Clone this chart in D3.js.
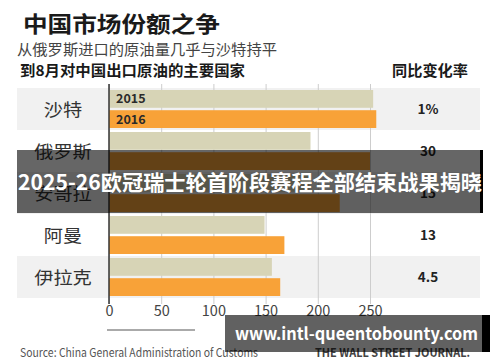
<!DOCTYPE html>
<html>
<head>
<meta charset="utf-8">
<script src="https://cdn.jsdelivr.net/npm/d3@7/dist/d3.min.js"></script>
<style>
  body { margin: 0; background: #fff; }
  svg { display: block; }
  text { font-family: "Noto Sans CJK SC", "Noto Sans", sans-serif; }
</style>
</head>
<body>
<svg id="chart" width="500" height="362"></svg>
<script>
// values (thousand barrels a day, roughly)
var countries = ["沙特", "俄罗斯", "安哥拉", "阿曼", "伊拉克"];
var years = ["2015", "2016"];
var values2015 = [253, 193, 192, 149, 156];
var values2016 = [256, 250, 221, 168, 164];
var changes = ["1%", "30", "15", "13", "4.5"];
var xTicks = [0, 50, 100, 150, 200, 250];

(function() {
  var svg = d3.select("#chart");

  var colors = { "2015": "#d7d4b6", "2016": "#f8a238" };

  var x = d3.scaleLinear().domain([0, 250]).range([109, 370]);
  var y = d3.scaleBand().domain(countries).range([88, 298]);
  var yInner = d3.scaleBand().domain(years).range([2, 40]).paddingInner(0.12);

  var rows = countries.map(function(c, i) {
    return { country: c, i: i, change: changes[i], v: { "2015": values2015[i], "2016": values2016[i] } };
  });

  // titles
  svg.append("text")
    .attr("x", 23).attr("y", 32)
    .attr("font-size", 22).attr("font-weight", "bold").attr("fill", "#1a1a1a")
    .attr("textLength", 197).attr("lengthAdjust", "spacingAndGlyphs")
    .text("中国市场份额之争");

  svg.append("text")
    .attr("x", 17).attr("y", 55)
    .attr("font-size", 15).attr("fill", "#444")
    .attr("textLength", 260).attr("lengthAdjust", "spacingAndGlyphs")
    .text("从俄罗斯进口的原油量几乎与沙特持平");

  svg.append("text")
    .attr("x", 20).attr("y", 76)
    .attr("font-size", 14.5).attr("font-weight", "bold").attr("fill", "#1a1a1a")
    .attr("textLength", 225).attr("lengthAdjust", "spacingAndGlyphs")
    .text("到8月对中国出口原油的主要国家");

  svg.append("text")
    .attr("x", 430).attr("y", 76)
    .attr("text-anchor", "middle")
    .attr("font-size", 14.5).attr("font-weight", "bold").attr("fill", "#1a1a1a")
    .attr("textLength", 76).attr("lengthAdjust", "spacingAndGlyphs")
    .text("同比变化率");

  // alternating row bands
  svg.append("g").selectAll("rect")
    .data(rows.filter(function(d) { return d.i % 2 === 0; }))
    .join("rect")
    .attr("x", 17).attr("width", 463)
    .attr("y", function(d) { return y(d.country); })
    .attr("height", y.bandwidth())
    .attr("fill", "#f1f1f1");

  // gridlines
  var grid = svg.append("g")
    .attr("transform", "translate(0,84)")
    .call(d3.axisBottom(x).tickValues(xTicks).tickSize(220).tickFormat(""));
  grid.select(".domain").remove();
  grid.selectAll("line").attr("stroke", "#cdcdcd");

  // bars
  var rowG = svg.append("g").selectAll("g")
    .data(rows)
    .join("g")
    .attr("transform", function(d) { return "translate(0," + y(d.country) + ")"; });

  rowG.selectAll("rect")
    .data(function(d) { return years.map(function(yr) { return { year: yr, value: d.v[yr] }; }); })
    .join("rect")
    .attr("x", x(0))
    .attr("y", function(d) { return yInner(d.year); })
    .attr("width", function(d) { return x(d.value) - x(0); })
    .attr("height", yInner.bandwidth())
    .attr("fill", function(d) { return colors[d.year]; });

  // year labels inside first row
  rowG.filter(function(d) { return d.i === 0; })
    .selectAll("text.yr")
    .data(years)
    .join("text")
    .attr("class", "yr")
    .attr("x", x(0) + 7)
    .attr("y", function(yr) { return yInner(yr) + yInner.bandwidth() / 2 + 4.5; })
    .attr("font-family", "'Open Sans', sans-serif")
    .attr("font-size", 12.5).attr("font-weight", "bold").attr("fill", "#2a2a2a")
    .text(function(yr) { return yr; });

  // country names
  rowG.append("text")
    .attr("x", 63)
    .attr("y", y.bandwidth() / 2 + 6.5)
    .attr("text-anchor", "middle")
    .attr("font-size", 17.5).attr("fill", "#333")
    .attr("textLength", function(d) { return d.country.length * 19.2; })
    .attr("lengthAdjust", "spacingAndGlyphs")
    .text(function(d) { return d.country; });

  // change column
  rowG.append("text")
    .attr("x", 428)
    .attr("y", y.bandwidth() / 2 + 5)
    .attr("text-anchor", "middle")
    .attr("font-family", "'Open Sans', sans-serif")
    .attr("font-size", 13.5).attr("font-weight", "bold").attr("fill", "#222")
    .text(function(d) { return d.change; });

  // zero line
  svg.append("line")
    .attr("x1", x(0)).attr("x2", x(0))
    .attr("y1", 84).attr("y2", 304)
    .attr("stroke", "#333").attr("stroke-width", 1.5);

  // axis labels
  var axis = svg.append("g")
    .attr("transform", "translate(0,304)")
    .call(d3.axisBottom(x).tickValues(xTicks).tickSize(0).tickPadding(2));
  axis.select(".domain").remove();
  axis.selectAll("text")
    .attr("font-family", "'Open Sans', sans-serif")
    .attr("font-size", 14.5).attr("fill", "#444");

  svg.append("line")
    .attr("x1", 107).attr("x2", 195)
    .attr("y1", 330).attr("y2", 330)
    .attr("stroke", "#aaa").attr("stroke-width", 2);

  // footer
  svg.append("text")
    .attr("x", 20).attr("y", 357)
    .attr("font-family", "'Open Sans', sans-serif")
    .attr("font-size", 12).attr("fill", "#555")
    .attr("textLength", 238).attr("lengthAdjust", "spacingAndGlyphs")
    .text("Source: China General Administration of Customs");

  svg.append("text")
    .attr("x", 315).attr("y", 357)
    .attr("font-family", "'Liberation Serif', serif")
    .attr("font-size", 12).attr("font-weight", "bold").attr("fill", "#444")
    .attr("textLength", 155).attr("lengthAdjust", "spacingAndGlyphs")
    .text("THE WALL STREET JOURNAL.");

  // caption overlays
  svg.append("rect")
    .attr("x", 17).attr("y", 150).attr("width", 463).attr("height", 63)
    .attr("fill", "rgba(0,0,0,0.6)");
  svg.append("rect")
    .attr("x", 480).attr("y", 150).attr("width", 3).attr("height", 63)
    .attr("fill", "#000");
  svg.append("text")
    .attr("x", 18).attr("y", 190)
    .attr("font-size", 21).attr("font-weight", "bold").attr("fill", "#fff")
    .attr("textLength", 464).attr("lengthAdjust", "spacingAndGlyphs")
    .text("2025-26欧冠瑞士轮首阶段赛程全部结束战果揭晓");

  svg.append("rect")
    .attr("x", 225).attr("y", 315).attr("width", 257).attr("height", 37)
    .attr("fill", "rgba(0,0,0,0.62)");
  svg.append("rect")
    .attr("x", 482).attr("y", 315).attr("width", 8).attr("height", 37)
    .attr("fill", "#000");
  svg.append("text")
    .attr("x", 235).attr("y", 340)
    .attr("font-family", "'Open Sans', sans-serif")
    .attr("font-size", 17).attr("font-weight", "bold").attr("fill", "#fff")
    .attr("textLength", 243).attr("lengthAdjust", "spacingAndGlyphs")
    .text("www.intl-queentobounty.com");
}());
</script>
</body>
</html>
